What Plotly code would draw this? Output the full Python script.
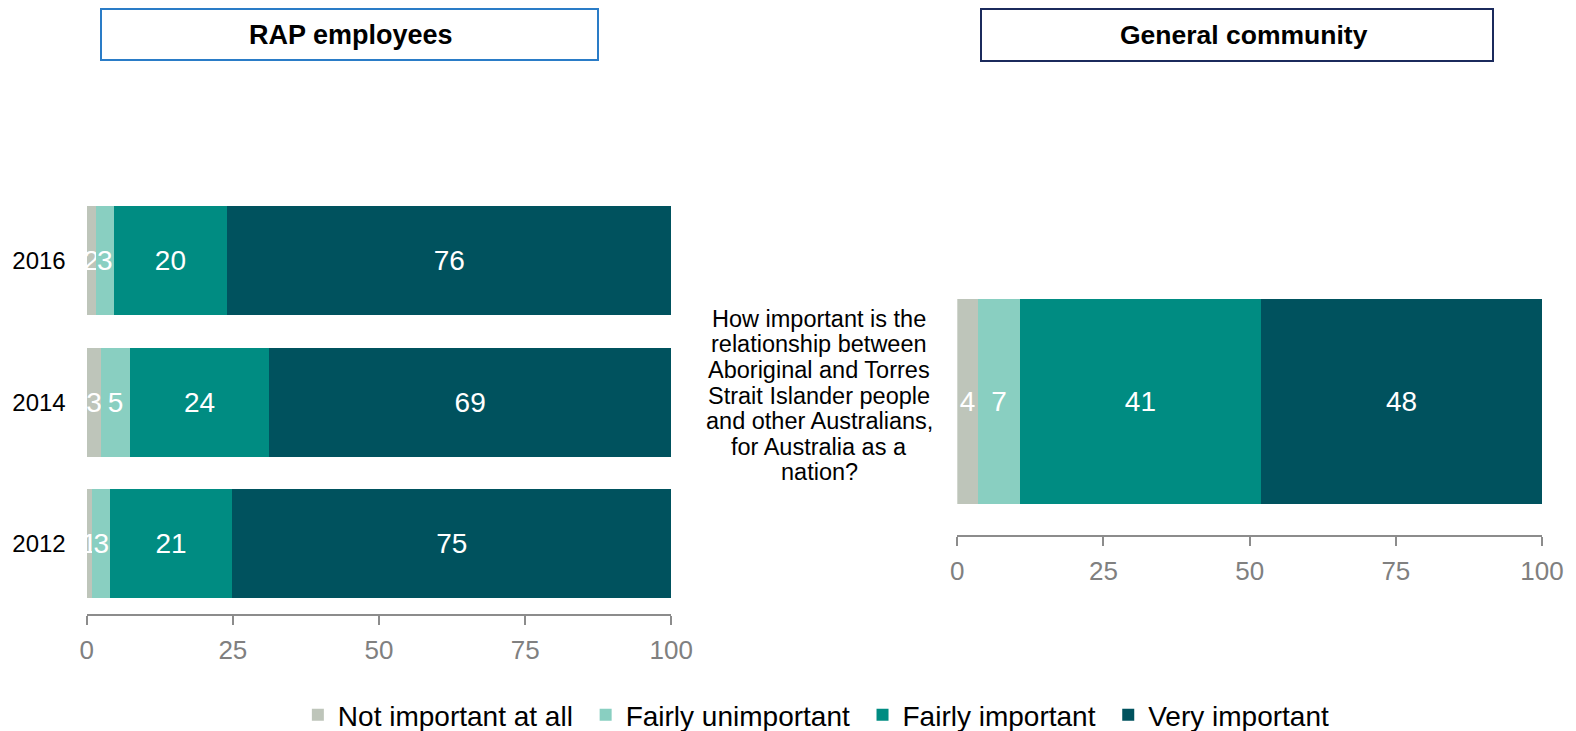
import plotly.graph_objects as go

# ---------------- data ----------------
years = ["2012", "2014", "2016"]
question = "How important is the relationship between Aboriginal and Torres Strait Islander people and other Australians, for Australia as a nation?"
question_lines = ["How important is the", "relationship between", "Aboriginal and Torres",
                  "Strait Islander people", "and other Australians,", "for Australia as a", "nation?"]

series_names = ["Not important at all", "Fairly unimportant", "Fairly important", "Very important"]
colors = ["#BEC5BA", "#89CFC1", "#008C82", "#00525E"]

# RAP employees (order: 2012, 2014, 2016)
rap_not_important = [0.96, 2.5, 1.54]
rap_fairly_unimportant = [3.03, 4.9, 3.08]
rap_fairly_important = [20.9, 23.8, 19.4]
rap_very_important = [75.1, 68.8, 76.0]
rap_labels_not = ["1", "3", "2"]
rap_labels_unimp = ["3", "5", "3"]
rap_labels_fimp = ["21", "24", "20"]
rap_labels_very = ["75", "69", "76"]

# General community
gc_not_important = [3.54]
gc_fairly_unimportant = [7.18]
gc_fairly_important = [41.2]
gc_very_important = [48.1]
gc_labels = [["4"], ["7"], ["41"], ["48"]]

x_ticks = [0, 25, 50, 75, 100]

# ---------------- figure ----------------
W, H = 1576, 731
FONT = "Liberation Sans, Arial, sans-serif"
NBSP = "\u00a0"

fig = go.Figure()

rap_vals = [rap_not_important, rap_fairly_unimportant, rap_fairly_important, rap_very_important]
rap_labs = [rap_labels_not, rap_labels_unimp, rap_labels_fimp, rap_labels_very]
gc_vals = [gc_not_important, gc_fairly_unimportant, gc_fairly_important, gc_very_important]

for i, name in enumerate(series_names):
    legend_name = name + (NBSP if i < len(series_names) - 1 else "")
    fig.add_trace(go.Bar(
        y=years, x=rap_vals[i], orientation="h", name=legend_name,
        marker=dict(color=colors[i], line=dict(width=0)),
        text=rap_labs[i], texttemplate="%{text}", textposition="inside",
        insidetextanchor="middle", textangle=0, constraintext="none",
        textfont=dict(color="white", size=28, family=FONT),
        xaxis="x", yaxis="y", legendgroup=name, showlegend=True,
        hoverinfo="skip",
    ))
    fig.add_trace(go.Bar(
        y=[question], x=gc_vals[i], orientation="h", name=legend_name,
        marker=dict(color=colors[i], line=dict(width=0)),
        text=gc_labels[i], texttemplate="%{text}", textposition="inside",
        insidetextanchor="middle", textangle=0, constraintext="none",
        textfont=dict(color="white", size=28, family=FONT),
        xaxis="x2", yaxis="y2", legendgroup=name, showlegend=False,
        hoverinfo="skip",
    ))

def px_x(p):
    return p / W

def px_y(p):
    return 1 - p / H

axis_common = dict(
    range=[0, 100], tickvals=x_ticks, showline=True, linecolor="#8C8C8C", linewidth=1.5,
    ticks="outside", ticklen=9, tickwidth=1.5, tickcolor="#8C8C8C",
    showgrid=False, zeroline=False, automargin=False, ticklabelstandoff=3,
    tickfont=dict(size=26, color="#808080", family=FONT),
)

fig.update_layout(
    width=W, height=H,
    margin=dict(l=0, r=0, t=0, b=0, autoexpand=False),
    paper_bgcolor="white", plot_bgcolor="white",
    barmode="stack", bargap=0.231,
    font=dict(family=FONT, color="black"),
    xaxis=dict(domain=[px_x(86.7), px_x(671.3)], anchor="y", **axis_common),
    yaxis=dict(domain=[px_y(614), px_y(188.5)], type="category",
               categoryorder="array", categoryarray=years, automargin=False,
               range=[-0.494, 2.508], showline=False, ticks="", showgrid=False,
               ticklabelstandoff=20,
               tickfont=dict(size=24, color="black", family=FONT)),
    xaxis2=dict(domain=[px_x(957.3), px_x(1542)], anchor="y2", **axis_common),
    yaxis2=dict(domain=[px_y(535), px_y(268)], type="category", automargin=False,
                range=[-0.5, 0.5], showline=False, ticks="", showgrid=False,
                showticklabels=False),
    legend=dict(orientation="h", x=0.189, xanchor="left", y=-9 / H, yanchor="bottom",
                font=dict(size=28, color="black", family=FONT), traceorder="normal",
                itemwidth=30, bgcolor="rgba(0,0,0,0)"),
    showlegend=True,
)

# Panel title boxes
fig.add_shape(type="rect", xref="paper", yref="paper",
              x0=px_x(101), x1=px_x(598), y0=px_y(60), y1=px_y(9),
              line=dict(color="#2A7CC7", width=2), fillcolor="white")
fig.add_shape(type="rect", xref="paper", yref="paper",
              x0=px_x(981), x1=px_x(1493), y0=px_y(61), y1=px_y(9),
              line=dict(color="#1B2A5C", width=2), fillcolor="white")
fig.add_annotation(text="<b>RAP employees</b>", xref="paper", yref="paper",
                   x=px_x(351), y=px_y(35), xanchor="center", yanchor="middle",
                   showarrow=False, font=dict(size=27, color="black", family=FONT))
fig.add_annotation(text="<b>General community</b>", xref="paper", yref="paper",
                   x=px_x(1244), y=px_y(35), xanchor="center", yanchor="middle",
                   showarrow=False, font=dict(size=26.5, color="black", family=FONT))

# Question label for the right panel (centre aligned, tight line spacing)
line_h = 25.6
n = len(question_lines)
for k, line in enumerate(question_lines):
    fig.add_annotation(text=line, xref="paper", yref="y2", x=px_x(819), y=question,
                       xanchor="center", yanchor="middle", showarrow=False,
                       yshift=-(k - (n - 1) / 2) * line_h + 6,
                       font=dict(size=23.5, color="black", family=FONT))

fig.write_html("out.html")
